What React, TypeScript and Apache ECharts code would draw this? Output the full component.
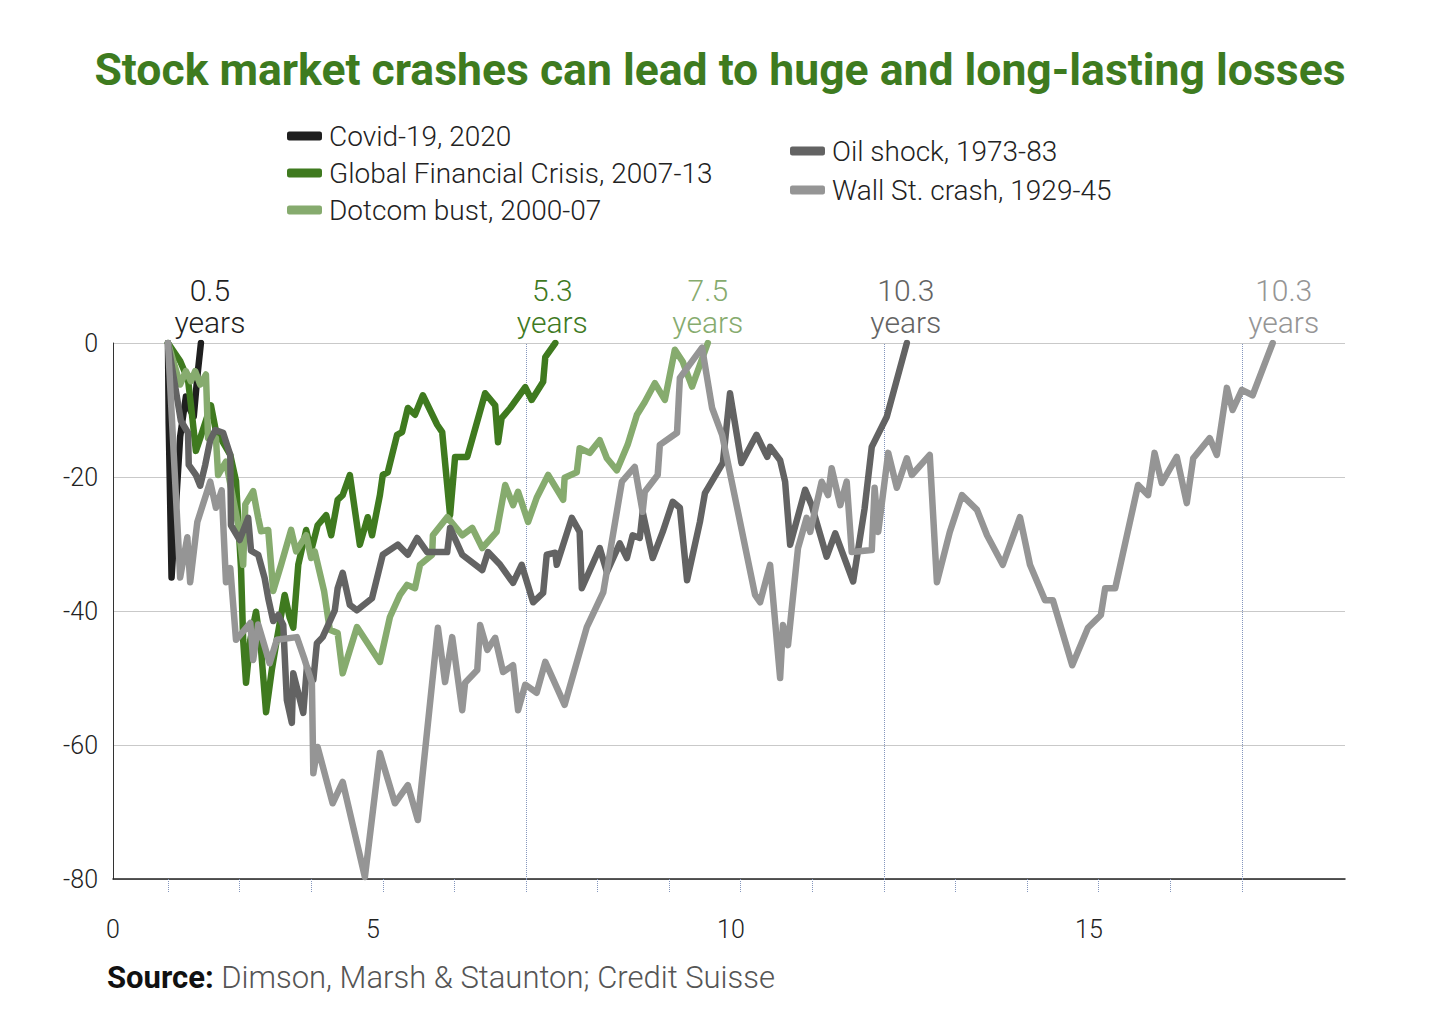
import React, { useEffect, useRef } from "react";
import * as echarts from "echarts";

// ---------- DATA ----------
const seriesNames = [
  "Covid-19, 2020",
  "Global Financial Crisis, 2007-13",
  "Dotcom bust, 2000-07",
  "Oil shock, 1973-83",
  "Wall St. crash, 1929-45",
];
const recoveryLabels = ["0.5", "5.3", "7.5", "10.3", "10.3"];

// years since the start of the crash
const covidYears = [0, 0.01, 0.05, 0.17, 0.25, 0.31, 0.36, 0.41, 0.46];
// drawdown from peak, %
const covidDrawdown = [0, -12, -35, -14, -8, -10, -11, -5, 0];

const gfcYears = [
  0, 0.17, 0.28, 0.32, 0.39, 0.45, 0.6, 0.68, 0.75, 0.87, 0.95, 1.02, 1.05, 1.09, 1.15, 1.23, 1.3,
  1.37, 1.45, 1.52, 1.63, 1.7, 1.75, 1.82, 1.93, 2.0, 2.09, 2.21, 2.28, 2.37, 2.44, 2.54, 2.68, 2.79,
  2.85, 2.96, 3.0, 3.07, 3.2, 3.27, 3.35, 3.45, 3.56, 3.76, 3.83, 3.94, 4.01, 4.18, 4.43, 4.57, 4.61,
  4.66, 4.78, 4.99, 5.08, 5.24, 5.27, 5.41,
];
const gfcDrawdown = [
  0, -2.7, -5.5, -9.2, -16.1, -14.2, -9.3, -13.7, -14.5, -16.7, -20.6, -33.6, -44.3, -50.7, -44.3,
  -40.1, -45.8, -55.1, -48.8, -44.3, -37.6, -41, -42.5, -33.1, -27.9, -31, -27.2, -25.7, -28.7, -23.4,
  -22.7, -19.7, -30.1, -26, -28.7, -22.7, -19.7, -19.3, -13.7, -13.3, -9.7, -10.7, -7.8, -12.2, -13.3,
  -25.7, -17, -17, -7.5, -9.3, -14.8, -11.2, -9.7, -6.6, -8.5, -5.8, -2.1, 0,
];

const dotcomYears = [
  0, 0.17, 0.25, 0.32, 0.38, 0.45, 0.53, 0.56, 0.67, 0.7, 0.81, 0.98, 1.05, 1.08, 1.19, 1.26, 1.3,
  1.4, 1.47, 1.58, 1.72, 1.79, 1.93, 2.0, 2.05, 2.18, 2.26, 2.37, 2.44, 2.64, 2.96, 3.1, 3.24, 3.34,
  3.45, 3.52, 3.69, 3.7, 3.9, 4.11, 4.25, 4.39, 4.59, 4.71, 4.82, 4.89, 5.03, 5.15, 5.31, 5.52, 5.54,
  5.71, 5.75, 5.89, 6.03, 6.13, 6.27, 6.42, 6.55, 6.66, 6.8, 6.94, 7.08, 7.19, 7.32, 7.54,
];
const dotcomDrawdown = [
  0, -6.2, -4.2, -5.7, -4.2, -6.2, -4.7, -14.2, -14.2, -19.7, -17.7, -27.1, -33.1, -24.1, -22.1,
  -26.1, -28.1, -27.9, -37, -33.1, -27.9, -31.1, -28.7, -32.1, -31.1, -37, -42.8, -43.3, -49.3, -42.4,
  -47.6, -40.9, -37.6, -36.1, -36.6, -33.1, -31.6, -28.7, -26, -28.7, -27.6, -30.6, -28.2, -21.2,
  -24.2, -22.2, -26.7, -23.1, -19.7, -23.4, -20.1, -19.3, -15.7, -16.4, -14.5, -17.2, -19, -15.2,
  -10.7, -8.8, -6, -8.5, -1, -2.8, -6.5, 0,
];

const oilYears = [
  0, 0.18, 0.28, 0.29, 0.39, 0.45, 0.52, 0.59, 0.66, 0.77, 0.87, 0.88, 1.0, 1.12, 1.16, 1.26, 1.35,
  1.4, 1.47, 1.54, 1.61, 1.66, 1.73, 1.75, 1.89, 1.94, 2.03, 2.08, 2.16, 2.33, 2.37, 2.44, 2.54, 2.64,
  2.85, 3.0, 3.21, 3.35, 3.48, 3.62, 3.9, 3.94, 4.11, 4.39, 4.47, 4.64, 4.82, 4.94, 5.1, 5.24, 5.29,
  5.41, 5.43, 5.64, 5.75, 5.78, 6.03, 6.13, 6.31, 6.41, 6.49, 6.59, 6.63, 6.77, 6.91, 7.05, 7.15,
  7.25, 7.43, 7.5, 7.75, 7.85, 8.01, 8.22, 8.37, 8.41, 8.55, 8.62, 8.69, 8.9, 8.99, 9.2, 9.32, 9.57,
  9.73, 9.83, 10.04, 10.32,
];
const oilDrawdown = [
  0, -11.6, -13.4, -18.2, -19.7, -21.3, -18.2, -14.5, -13, -13.4, -16.7, -27.2, -29.4, -26.1, -31,
  -31.6, -35.1, -38.1, -41.5, -40.6, -42.1, -53.3, -56.7, -49.3, -55.2, -48.4, -50.3, -44.8, -43.9,
  -39.9, -36.6, -34.3, -39.1, -39.9, -38.1, -31.6, -30.1, -31.6, -29.1, -31.2, -31.2, -27.6, -31.6,
  -33.9, -31.2, -33.1, -35.8, -33.1, -38.7, -37.3, -31.6, -31.3, -33.1, -26.1, -28.2, -36.6, -30.6,
  -34.2, -29.9, -32.1, -28.7, -29.1, -25.2, -32.1, -28.2, -23.7, -24.6, -35.4, -26.7, -22.4, -17.9,
  -7.5, -17.9, -13.7, -17, -15.5, -17.5, -20.7, -30.1, -21.9, -24.2, -31.9, -28.4, -35.6, -24.7,
  -15.5, -11, 0,
];

const wallYears = [
  0, 0.17, 0.27, 0.31, 0.41, 0.59, 0.67, 0.75, 0.81, 0.87, 0.95, 1.15, 1.19, 1.26, 1.42, 1.52, 1.8,
  1.91, 2.01, 2.03, 2.09, 2.3, 2.44, 2.75, 2.96, 3.17, 3.35, 3.49, 3.77, 3.87, 3.97, 4.11, 4.15, 4.32,
  4.36, 4.46, 4.57, 4.68, 4.82, 4.89, 4.99, 5.15, 5.27, 5.54, 5.85, 6.08, 6.34, 6.52, 6.63, 6.66,
  6.84, 6.87, 7.11, 7.15, 7.46, 7.6, 7.74, 8.2, 8.27, 8.41, 8.55, 8.59, 8.66, 8.8, 8.92, 8.97, 9.13,
  9.22, 9.27, 9.39, 9.48, 9.55, 9.83, 9.87, 9.92, 10.06, 10.18, 10.32, 10.39, 10.64, 10.74, 10.92,
  11.09, 11.3, 11.44, 11.66, 11.9, 12.04, 12.25, 12.36, 12.63, 12.85, 13.03, 13.09, 13.23, 13.55,
  13.69, 13.78, 13.88, 14.09, 14.23, 14.32, 14.55, 14.65, 14.79, 14.87, 15.0, 15.15, 15.43,
];
const wallDrawdown = [
  0, -35, -29, -35.7, -26.7, -20.7, -24.6, -22, -35.7, -33.6, -44.3, -41.8, -47.3, -42, -47.8, -44.3,
  -43.9, -47.3, -50.7, -64.2, -60.3, -68.7, -65.5, -79.7, -61.2, -68.7, -66, -71.2, -42.5, -50.6,
  -43.9, -54.8, -50.7, -48.8, -42.1, -45.8, -44, -49.1, -48.1, -54.8, -51, -52.2, -47.6, -54, -42.4,
  -37.2, -20.7, -18.5, -25.2, -22.2, -19.7, -15.2, -13.4, -5.2, -0.7, -9.7, -13.7, -37.6, -38.7,
  -33.1, -50, -42.1, -45.1, -30.6, -26.1, -28.2, -20.7, -22.7, -18.7, -24.2, -20.7, -31.2, -30.9,
  -21.6, -28.2, -16.4, -21.6, -17.2, -19.7, -16.7, -35.7, -28.2, -22.7, -24.9, -28.7, -33.1, -26,
  -33.1, -38.4, -38.4, -48.1, -42.5, -40.6, -36.6, -36.6, -21.2, -22.7, -16.4, -20.9, -17, -23.9,
  -17.2, -14.2, -16.7, -6.7, -10, -7, -7.8, 0,
];

// axis
const yTicks = [-80, -60, -40, -20, 0];
const xTickYears = [0, 1, 2, 3, 4, 5, 6, 7, 8, 9, 10, 11, 12, 13, 14, 15];
const xGuideYears = [5, 10, 15];
const xTickLabels = ["0", "5", "10", "15"];
const xTickLabelAt = [-0.768, 2.863, 7.863, 12.863]; // where the original places its labels

// ---------- STYLE ----------
const FONT = 'Roboto, "Noto Sans", "DejaVu Sans", sans-serif';
const colors = ["#1f1f1f", "#3f7a1f", "#86ab6e", "#636363", "#959595"];
const labelOffsets = [
  [9, 0],
  [-3, 0],
  [0, 0],
  [-1, 0],
  [11, 0],
];

const seriesX = [covidYears, gfcYears, dotcomYears, oilYears, wallYears];
const seriesY = [covidDrawdown, gfcDrawdown, dotcomDrawdown, oilDrawdown, wallDrawdown];

function buildOption() {
  const series: any[] = seriesNames.map((name, i) => {
    const xs = seriesX[i];
    const ys = seriesY[i];
    const data = xs.map((x, k) => [x, ys[k]]);
    const last = data[data.length - 1];
    const s: any = {
      type: "line",
      name,
      data,
      showSymbol: false,
      symbol: "none",
      color: colors[i],
      lineStyle: { width: 6.5, color: colors[i], cap: "round", join: "round" },
      z: 2 + i,
      markPoint: {
        silent: true,
        symbol: "circle",
        symbolSize: 1,
        itemStyle: { color: "rgba(0,0,0,0)" },
        label: {
          show: true,
          position: "top",
          distance: 4,
          offset: labelOffsets[i],
          formatter: "{a|" + recoveryLabels[i] + "}\n{a|years}",
          color: colors[i],
          align: "center",
          rich: {
            a: {
              color: colors[i],
              fontFamily: FONT,
              fontSize: 30,
              fontWeight: 300,
              lineHeight: 32,
              align: "center",
            },
          },
        },
        data: [{ coord: last }],
      },
    };
    if (i === 4) {
      s.markLine = {
        silent: true,
        symbol: ["none", "none"],
        label: { show: false },
        lineStyle: { type: "dotted", color: "#8496bd", width: 1 },
        data: xGuideYears.map((v) => ({ xAxis: v })),
        z: 1,
      };
    }
    return s;
  });

  const legendText = {
    fontFamily: FONT,
    fontSize: 28,
    fontWeight: 300,
    color: "#222",
    lineHeight: 30,
    padding: [0, 0, 0, 2],
  };

  return {
    animation: false,
    backgroundColor: "#ffffff",
    title: [
      {
        text: "Stock market crashes can lead to huge and long-lasting losses",
        left: "center",
        top: 42,
        textStyle: {
          fontFamily: FONT,
          fontSize: 44.5,
          fontWeight: "bold",
          color: "#3e7b1f",
        },
      },
      {
        text: "{b|Source:}{n| Dimson, Marsh & Staunton; Credit Suisse}",
        left: 102,
        top: 957,
        textStyle: {
          rich: {
            b: { fontFamily: FONT, fontSize: 31, fontWeight: "bold", color: "#111" },
            n: { fontFamily: FONT, fontSize: 31, fontWeight: 300, color: "#555" },
          },
        },
      },
    ],
    legend: [
      {
        orient: "vertical",
        left: 287,
        top: 121,
        padding: 0,
        itemWidth: 35,
        itemHeight: 9,
        itemGap: 7,
        icon: "roundRect",
        data: seriesNames.slice(0, 3),
        textStyle: legendText,
        selectedMode: false,
      },
      {
        orient: "vertical",
        left: 790,
        top: 136,
        padding: 0,
        itemWidth: 35,
        itemHeight: 9,
        itemGap: 9,
        icon: "roundRect",
        data: seriesNames.slice(3),
        textStyle: legendText,
        selectedMode: false,
      },
    ],
    grid: { left: 113, right: 95, top: 343, bottom: 148, containLabel: false },
    xAxis: {
      type: "value",
      min: -0.768,
      max: 16.44,
      splitLine: { show: false },
      axisLine: { show: true, onZero: false, lineStyle: { color: "#222", width: 1.5 } },
      axisTick: {
        show: true,
        customValues: xTickYears,
        length: 14,
        lineStyle: { type: "dotted", color: "#8496bd", width: 1 },
      },
      axisLabel: {
        show: true,
        customValues: xTickLabelAt,
        margin: 38,
        fontFamily: FONT,
        fontSize: 25,
        fontWeight: 300,
        color: "#222",
        formatter: (v: number) => {
          let best = 0;
          xTickLabelAt.forEach((p, k) => {
            if (Math.abs(p - v) < Math.abs(xTickLabelAt[best] - v)) best = k;
          });
          return xTickLabels[best];
        },
      },
    },
    yAxis: {
      type: "value",
      min: yTicks[0],
      max: yTicks[yTicks.length - 1],
      interval: 20,
      axisLine: { show: true, onZero: false, lineStyle: { color: "#333", width: 1 } },
      axisTick: { show: false },
      splitLine: { show: true, lineStyle: { color: "#c9c9c9", width: 1.2 } },
      axisLabel: {
        margin: 15,
        fontFamily: FONT,
        fontSize: 25,
        fontWeight: 300,
        color: "#222",
      },
    },
    series,
  };
}

export default function App() {
  const ref = useRef<HTMLDivElement>(null);
  useEffect(() => {
    if (!ref.current) return;
    const chart = echarts.init(ref.current, null, { renderer: "svg" });
    chart.setOption(buildOption() as any);
    return () => chart.dispose();
  }, []);
  return (
    <div
      ref={ref}
      style={{ position: "fixed", left: 0, top: 0, width: 1440, height: 1027, background: "#fff" }}
    />
  );
}
